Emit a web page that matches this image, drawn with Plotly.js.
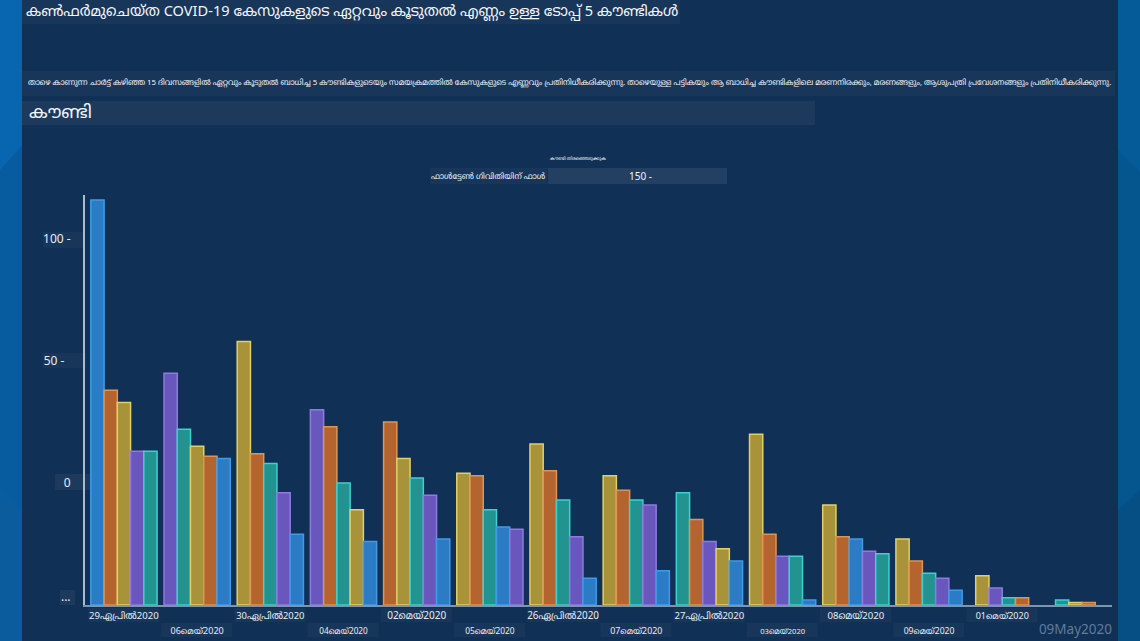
<!DOCTYPE html>
<html><head><meta charset="utf-8">
<script src="https://cdn.plot.ly/plotly-3.0.1.min.js"></script>
<style>html,body{margin:0;padding:0;background:#0a5c9e;overflow:hidden}#c{width:1140px;height:641px}</style>
</head><body><div id="c"></div>
<script>
const dates=["29ഏപ്രിൽ2020","06മെയ്2020","30ഏപ്രിൽ2020","04മെയ്2020","02മെയ്2020","05മെയ്2020","26ഏപ്രിൽ2020","07മെയ്2020","27ഏപ്രിൽ2020","03മെയ്2020","08മെയ്2020","09മെയ്2020","01മെയ്2020","09May2020"];
const rank1=[166,95,108,80,75,54,66,53,46,70,41,27,12,2];
const rank2=[88,72,62,73,60,53,55,47,35,29,28,18,7,1];
const rank3=[83,65,58,50,52,39,43,43,26,20,27,13,3,1];
const rank4=[63,61,46,39,45,32,28,41,23,20,22,11,3,null];
const rank5=[63,60,29,26,27,31,11,14,18,2,21,6,null,null];
const county1=["blue","purple","yellow","purple","orange","yellow","yellow","yellow","teal","yellow","yellow","yellow","yellow","teal"];
const county2=["orange","teal","orange","orange","yellow","orange","orange","orange","orange","orange","orange","orange","purple","yellow"];
const county3=["yellow","yellow","teal","teal","teal","teal","teal","teal","purple","purple","blue","teal","teal","orange"];
const county4=["purple","orange","purple","yellow","purple","blue","purple","purple","yellow","teal","purple","purple","orange",null];
const county5=["teal","blue","blue","blue","blue","purple","blue","blue","blue","blue","teal","blue",null,null];
const yTicks=[3.3,50,100,150];
const yLabels=["...","0","50 -&#160;&#160;","100 -"];
const titleText="കൺഫർമുചെയ്ത COVID-19 കേസുകളുടെ ഏറ്റവും കൂടുതൽ എണ്ണം ഉള്ള ടോപ്പ് 5 കൗണ്ടികൾ";
const subText="താഴെ കാണുന്ന ചാർട്ട് കഴിഞ്ഞ 15 ദിവസങ്ങളിൽ ഏറ്റവും കൂടുതൽ ബാധിച്ച 5 കൗണ്ടികളുടെയും സമയക്രമത്തിൽ കേസുകളുടെ എണ്ണവും പ്രതിനിധീകരിക്കുന്നു. താഴെയുള്ള പട്ടികയും ആ ബാധിച്ച കൗണ്ടികളിലെ മരണനിരക്കും, മരണങ്ങളും, ആശുപത്രി പ്രവേശനങ്ങളും പ്രതിനിധീകരിക്കുന്നു.";
const headText="കൗണ്ടി";
const labelSizes=[9.6,9,9.4,8.2,10,8.4,9.9,8.8,9.6,7.6,9.6,8.6,9,13.5];
const fill={blue:"#2b7cc4",orange:"#b4652f",yellow:"#a8923a",purple:"#6a57bd",teal:"#22938f"};
const edge={blue:"#3f9be8",orange:"#e0944f",yellow:"#e2cf66",purple:"#8d7be0",teal:"#3fd0d0"};
const ranks=[rank1,rank2,rank3,rank4,rank5], counties=[county1,county2,county3,county4,county5];
const w=0.181;
const counts=dates.map((d,i)=>ranks.filter(r=>r[i]!=null).length);
const data=ranks.map((r,k)=>({type:"bar",x:dates.map((d,i)=>i),y:r,width:w,
 offset:dates.map((d,i)=>-w*counts[i]/2+w*k),
 marker:{color:counties[k].map(c=>c?fill[c]:"#000"),line:{color:counties[k].map(c=>c?edge[c]:"#000"),width:1.5}},
 hoverinfo:"y",showlegend:false}));
const fontStack='"Noto Sans","Noto Sans Malayalam","Open Sans",sans-serif';
const tickText=dates.map((d,i)=>{
 const c=i===13?';color:#5f7c99':'';
 const span='<span style="font-size:'+labelSizes[i]+'px'+c+'">'+d+'</span>';
 return i%2===0&&i!==13?span:'&#160;<br>'+span;
});
const px=(x)=>(x-85)/1027, py=(y)=>(605-y)/410;
const box=(x0,y0,x1,y1,c)=>({type:"rect",xref:"paper",yref:"paper",layer:"below",x0:px(x0),x1:px(x1),y0:py(y1),y1:py(y0),fillcolor:c,line:{width:0}});
const poly=(pts,c)=>({type:"path",xref:"paper",yref:"paper",layer:"below",path:"M"+pts.map(p=>px(p[0])+","+py(p[1])).join("L")+"Z",fillcolor:c,line:{width:0}});
const lite="rgba(255,255,255,0.05)", faint="rgba(255,255,255,0.03)";
const shapes=[
 box(0,0,22,641,"#0866b0"),
 poly([[0,170],[22,145],[22,512],[0,490]],"#075c9f"),
 poly([[0,490],[22,512],[22,641],[0,641]],"#0a5c9c"),
 box(1118,0,1140,641,"#055a98"),
 poly([[1118,150],[1140,172],[1140,490],[1118,510]],"#05558f"),
 poly([[1118,510],[1140,490],[1140,641],[1118,641]],"#054f85"),
 box(22,0,1118,641,"#113055"),
 box(22,0,680,24,faint),box(22,71,1115,96,faint),box(22,101,815,125,lite),
 box(430,168,547,184,faint),box(548,168,727,184,"rgba(255,255,255,0.08)"),
 box(43,232,85,248,faint),box(43,353,86,368,faint),box(55,474,90,490,lite),box(60,590,75,605,lite),
];
dates.forEach((d,i)=>{ if(i===13)return;
 const cx=124+i*73.2; const odd=i%2===1;
 shapes.push(box(cx-36,odd?623:608,cx+35,odd?637:622,faint));
});
const txt=(t,x,y,size,anchor)=>({text:t,xref:"paper",yref:"paper",x:px(x),y:py(y),xanchor:anchor||"left",yanchor:"middle",showarrow:false,font:{size:size,color:"#f2f5f8",family:fontStack}});
const layout={width:1140,height:641,margin:{l:85,r:28,t:195,b:36},paper_bgcolor:"#113055",plot_bgcolor:"rgba(0,0,0,0)",
 font:{family:fontStack,color:"#eef2f6"},
 title:{text:titleText,x:26/1140,xanchor:"left",y:1-11/641,yanchor:"middle",font:{size:14.6,color:"#f4f6f8",family:fontStack}},
 barmode:"overlay",
 xaxis:{type:"linear",range:[-0.532,13.5],tickmode:"array",tickvals:dates.map((d,i)=>i),ticktext:tickText,ticks:"",tickfont:{size:11.5,color:"#e8edf2"},ticklabelstandoff:-2,showgrid:false,zeroline:false,showline:true,linecolor:"#7f95ad",linewidth:2,tickangle:0,automargin:false},
 yaxis:{range:[0,168],tickmode:"array",tickvals:yTicks,ticktext:yLabels,ticks:"",tickfont:{size:12,color:"#e8edf2"},ticklabelstandoff:10,showgrid:false,zeroline:false,showline:true,linecolor:"#a9bccf",linewidth:2,automargin:false},
 shapes:shapes,
 annotations:[
  txt(subText,26,83,7.8),
  txt(headText,27,111,18),
  txt("കൗണ്ടി തിരഞ്ഞെടുക്കുക",578,158,4.5,"center"),
  txt("ഫാൾട്ടേൺ ഗിവിതിയിന് ഫാൾ",488,176,8,"center"),
  txt("150 -",640,176,10,"center")
 ]};
Plotly.newPlot("c",data,layout,{displayModeBar:false,staticPlot:true});
</script></body></html>
